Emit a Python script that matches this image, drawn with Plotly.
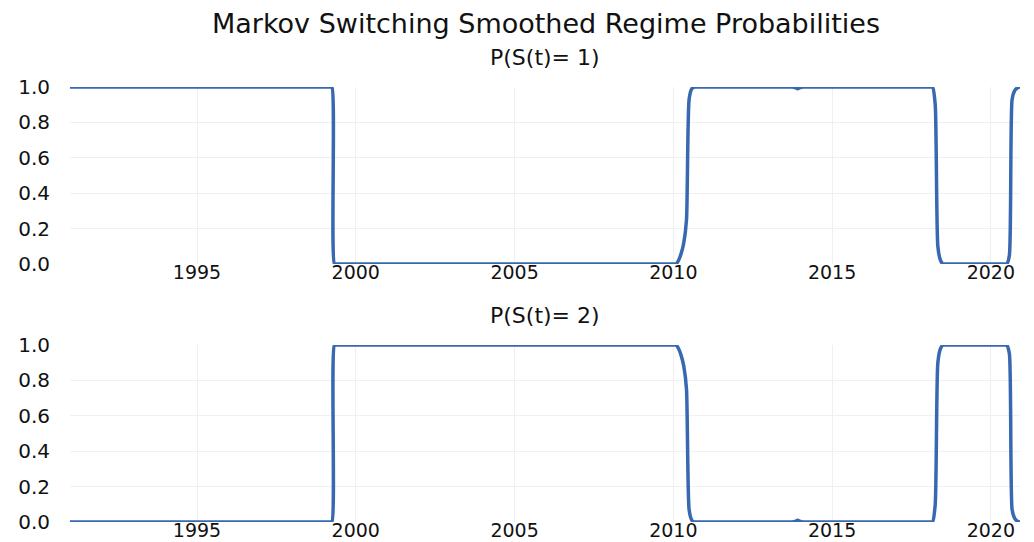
import pandas as pd
import plotly.graph_objects as go

# Monthly observations, Jan 1991 .. Dec 2020
months = pd.date_range("1991-01-01", "2020-12-01", freq="MS")

# Smoothed probability of regime 1 (one row per year, Jan..Dec)
p_regime1 = [
    1, 1, 1, 1, 1, 1, 1, 1, 1, 1, 1, 1,  # 1991
    1, 1, 1, 1, 1, 1, 1, 1, 1, 1, 1, 1,  # 1992
    1, 1, 1, 1, 1, 1, 1, 1, 1, 1, 1, 1,  # 1993
    1, 1, 1, 1, 1, 1, 1, 1, 1, 1, 1, 1,  # 1994
    1, 1, 1, 1, 1, 1, 1, 1, 1, 1, 1, 1,  # 1995
    1, 1, 1, 1, 1, 1, 1, 1, 1, 1, 1, 1,  # 1996
    1, 1, 1, 1, 1, 1, 1, 1, 1, 1, 1, 1,  # 1997
    1, 1, 1, 1, 1, 1, 1, 1, 1, 1, 1, 1,  # 1998
    1, 1, 1, 1, 0, 0, 0, 0, 0, 0, 0, 0,  # 1999
    0, 0, 0, 0, 0, 0, 0, 0, 0, 0, 0, 0,  # 2000
    0, 0, 0, 0, 0, 0, 0, 0, 0, 0, 0, 0,  # 2001
    0, 0, 0, 0, 0, 0, 0, 0, 0, 0, 0, 0,  # 2002
    0, 0, 0, 0, 0, 0, 0, 0, 0, 0, 0, 0,  # 2003
    0, 0, 0, 0, 0, 0, 0, 0, 0, 0, 0, 0,  # 2004
    0, 0, 0, 0, 0, 0, 0, 0, 0, 0, 0, 0,  # 2005
    0, 0, 0, 0, 0, 0, 0, 0, 0, 0, 0, 0,  # 2006
    0, 0, 0, 0, 0, 0, 0, 0, 0, 0, 0, 0,  # 2007
    0, 0, 0, 0, 0, 0, 0, 0, 0, 0, 0, 0,  # 2008
    0, 0, 0, 0, 0, 0, 0, 0, 0, 0, 0, 0,  # 2009
    0, 0, 0.02, 0.06, 0.12, 0.25, 0.93, 0.99, 1, 1, 1, 1,  # 2010
    1, 1, 1, 1, 1, 1, 1, 1, 1, 1, 1, 1,  # 2011
    1, 1, 1, 1, 1, 1, 1, 1, 1, 1, 1, 1,  # 2012
    1, 1, 1, 1, 1, 1, 1, 1, 1, 1, 0.997, 0.99,  # 2013
    0.997, 1, 1, 1, 1, 1, 1, 1, 1, 1, 1, 1,  # 2014
    1, 1, 1, 1, 1, 1, 1, 1, 1, 1, 1, 1,  # 2015
    1, 1, 1, 1, 1, 1, 1, 1, 1, 1, 1, 1,  # 2016
    1, 1, 1, 1, 1, 1, 1, 1, 1, 1, 1, 1,  # 2017
    1, 1, 1, 0.9, 0.1, 0.02, 0, 0, 0, 0, 0, 0,  # 2018
    0, 0, 0, 0, 0, 0, 0, 0, 0, 0, 0, 0,  # 2019
    0, 0, 0, 0, 0, 0, 0, 0.05, 0.93, 0.98, 0.995, 1,  # 2020
]

# Smoothed probability of regime 2
p_regime2 = [
    0, 0, 0, 0, 0, 0, 0, 0, 0, 0, 0, 0,  # 1991
    0, 0, 0, 0, 0, 0, 0, 0, 0, 0, 0, 0,  # 1992
    0, 0, 0, 0, 0, 0, 0, 0, 0, 0, 0, 0,  # 1993
    0, 0, 0, 0, 0, 0, 0, 0, 0, 0, 0, 0,  # 1994
    0, 0, 0, 0, 0, 0, 0, 0, 0, 0, 0, 0,  # 1995
    0, 0, 0, 0, 0, 0, 0, 0, 0, 0, 0, 0,  # 1996
    0, 0, 0, 0, 0, 0, 0, 0, 0, 0, 0, 0,  # 1997
    0, 0, 0, 0, 0, 0, 0, 0, 0, 0, 0, 0,  # 1998
    0, 0, 0, 0, 1, 1, 1, 1, 1, 1, 1, 1,  # 1999
    1, 1, 1, 1, 1, 1, 1, 1, 1, 1, 1, 1,  # 2000
    1, 1, 1, 1, 1, 1, 1, 1, 1, 1, 1, 1,  # 2001
    1, 1, 1, 1, 1, 1, 1, 1, 1, 1, 1, 1,  # 2002
    1, 1, 1, 1, 1, 1, 1, 1, 1, 1, 1, 1,  # 2003
    1, 1, 1, 1, 1, 1, 1, 1, 1, 1, 1, 1,  # 2004
    1, 1, 1, 1, 1, 1, 1, 1, 1, 1, 1, 1,  # 2005
    1, 1, 1, 1, 1, 1, 1, 1, 1, 1, 1, 1,  # 2006
    1, 1, 1, 1, 1, 1, 1, 1, 1, 1, 1, 1,  # 2007
    1, 1, 1, 1, 1, 1, 1, 1, 1, 1, 1, 1,  # 2008
    1, 1, 1, 1, 1, 1, 1, 1, 1, 1, 1, 1,  # 2009
    1, 1, 0.98, 0.94, 0.88, 0.75, 0.07, 0.01, 0, 0, 0, 0,  # 2010
    0, 0, 0, 0, 0, 0, 0, 0, 0, 0, 0, 0,  # 2011
    0, 0, 0, 0, 0, 0, 0, 0, 0, 0, 0, 0,  # 2012
    0, 0, 0, 0, 0, 0, 0, 0, 0, 0, 0.003, 0.01,  # 2013
    0.003, 0, 0, 0, 0, 0, 0, 0, 0, 0, 0, 0,  # 2014
    0, 0, 0, 0, 0, 0, 0, 0, 0, 0, 0, 0,  # 2015
    0, 0, 0, 0, 0, 0, 0, 0, 0, 0, 0, 0,  # 2016
    0, 0, 0, 0, 0, 0, 0, 0, 0, 0, 0, 0,  # 2017
    0, 0, 0, 0.1, 0.9, 0.98, 1, 1, 1, 1, 1, 1,  # 2018
    1, 1, 1, 1, 1, 1, 1, 1, 1, 1, 1, 1,  # 2019
    1, 1, 1, 1, 1, 1, 1, 0.95, 0.07, 0.02, 0.005, 0,  # 2020
]

main_title = "Markov Switching Smoothed Regime Probabilities"
panel_titles = ["P(S(t)= 1)", "P(S(t)= 2)"]
y_ticks = [0.0, 0.2, 0.4, 0.6, 0.8, 1.0]

LINE = "#3868b0"
GRID = "#f0f0f0"
FONT = "DejaVu Sans"
TXT = "#111111"

line_style = dict(color=LINE, width=3.5, shape="spline", smoothing=0.6)

fig = go.Figure()
fig.add_trace(go.Scatter(x=months, y=p_regime1, mode="lines", xaxis="x", yaxis="y",
                         line=line_style, showlegend=False, hoverinfo="x+y"))
fig.add_trace(go.Scatter(x=months, y=p_regime2, mode="lines", xaxis="x2", yaxis="y2",
                         line=line_style, showlegend=False, hoverinfo="x+y"))

xcommon = dict(type="date", range=["1991-01-01", "2020-12-01"], dtick="M60",
               tick0="1990-01-01", tickformat="%Y", showgrid=True, gridcolor=GRID,
               gridwidth=1, zeroline=False, showline=False, ticks="",
               ticklabelstandoff=-5,
               tickfont=dict(family=FONT, size=19, color=TXT))
ycommon = dict(range=[0, 1], tickvals=y_ticks, tickformat=".1f", showgrid=True,
               gridcolor=GRID, gridwidth=1, zeroline=False, showline=False,
               ticks="outside", ticklen=15, tickcolor="rgba(0,0,0,0)",
               tickfont=dict(family=FONT, size=20, color=TXT))

W, H = 1026, 534
fig.update_layout(
    width=W, height=H,
    margin=dict(l=62, r=14, t=79, b=20, autoexpand=False),
    paper_bgcolor="white", plot_bgcolor="white",
    title=dict(text=main_title, x=538 / W, xanchor="center", y=1 - 16 / H,
               yanchor="middle", font=dict(family=FONT, size=27, color=TXT)),
    xaxis=dict(domain=[0, 1], anchor="y", **xcommon),
    yaxis=dict(domain=[0.5931, 1.0], anchor="x", **ycommon),
    xaxis2=dict(domain=[0, 1], anchor="y2", **xcommon),
    yaxis2=dict(domain=[0.0, 0.4069], anchor="x2", **ycommon),
    annotations=[
        dict(text=panel_titles[0], xref="paper", yref="paper", x=0.5, y=1.0678,
             xanchor="center", yanchor="middle", showarrow=False,
             font=dict(family=FONT, size=22, color=TXT)),
        dict(text=panel_titles[1], xref="paper", yref="paper", x=0.5, y=0.4736,
             xanchor="center", yanchor="middle", showarrow=False,
             font=dict(family=FONT, size=22, color=TXT)),
    ],
)

fig.write_html("out.html")
